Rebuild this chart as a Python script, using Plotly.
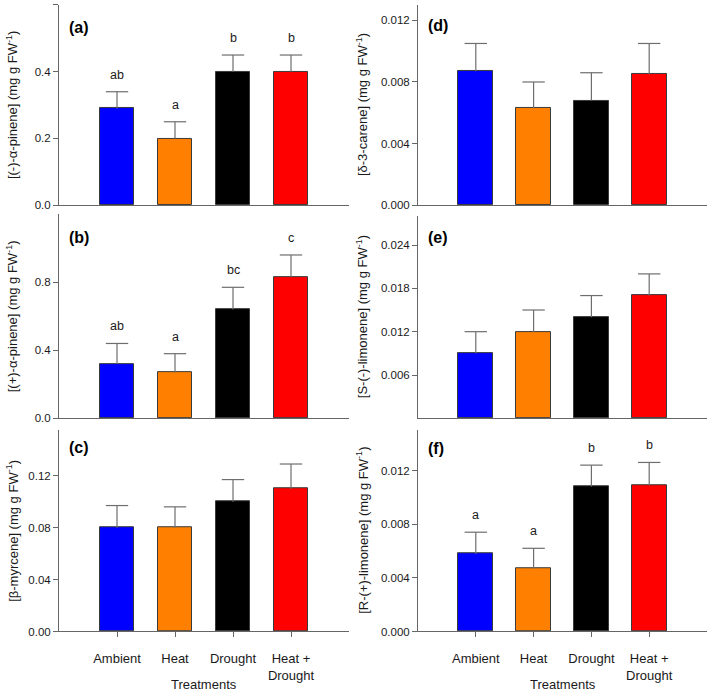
import plotly.graph_objects as go

# ---------------- data ----------------
categories = ["Ambient", "Heat", "Drought", "Heat +<br>Drought"]
bar_colors = ["#0000FF", "#FF8000", "#000000", "#FF0000"]

a_vals = [0.29, 0.20, 0.40, 0.40]
a_err = [0.05, 0.05, 0.05, 0.05]
a_letters = ["ab", "a", "b", "b"]

b_vals = [0.32, 0.27, 0.64, 0.83]
b_err = [0.12, 0.11, 0.13, 0.13]
b_letters = ["ab", "a", "bc", "c"]

c_vals = [0.080, 0.080, 0.100, 0.110]
c_err = [0.017, 0.016, 0.017, 0.019]

d_vals = [0.0087, 0.0063, 0.0068, 0.0085]
d_err = [0.0018, 0.0017, 0.0018, 0.0020]

e_vals = [0.009, 0.012, 0.014, 0.017]
e_err = [0.003, 0.003, 0.003, 0.003]

f_vals = [0.0058, 0.0047, 0.0108, 0.0109]
f_err = [0.0016, 0.0015, 0.0016, 0.0017]
f_letters = ["a", "a", "b", "b"]

a_ticks = [0.0, 0.2, 0.4, 0.6]
b_ticks = [0.0, 0.4, 0.8]
c_ticks = [0.0, 0.04, 0.08, 0.12]
d_ticks = [0.0, 0.004, 0.008, 0.012]
e_ticks = [0.006, 0.012, 0.018, 0.024]
f_ticks = [0.0, 0.004, 0.008, 0.012]

# ---------------- layout geometry ----------------
W, H = 708, 694
FONT = "Arial, Liberation Sans, sans-serif"
AXC = "#666666"
ERRC = "#6e6e6e"
TXT = "#1a1a1a"

def px_x(p):
    return p / W

def px_y(p):
    return 1 - p / H

col_dom = {0: [px_x(59), px_x(349)], 1: [px_x(418), px_x(707)]}

panels = [
    # label, vals, err, letters, yrange, ticks, fmt, col, top, bottom, title, labelpos
    ("(a)", a_vals, a_err, a_letters, [0, 0.6], a_ticks, "%.1f", 0, 5, 207,
     "[(-)-α-pinene] (mg g FW<sup>-1</sup>)", (67, 27.5)),
    ("(b)", b_vals, b_err, b_letters, [0, 1.2], b_ticks, "%.1f", 0, 216, 422,
     "[(+)-α-pinene] (mg g FW<sup>-1</sup>)", (67, 240)),
    ("(c)", c_vals, c_err, None, [0, 0.155], c_ticks, "%.2f", 0, 434, 637,
     "[β-myrcene] (mg g FW<sup>-1</sup>)", (67, 451)),
    ("(d)", d_vals, d_err, None, [0, 0.013], d_ticks, "%.3f", 1, 5, 207,
     "[δ-3-carene] (mg g FW<sup>-1</sup>)", (426, 26)),
    ("(e)", e_vals, e_err, None, [0, 0.028], e_ticks, "%.3f", 1, 218, 422,
     "[S-(-)-limonene] (mg g FW<sup>-1</sup>)", (426, 240)),
    ("(f)", f_vals, f_err, f_letters, [0, 0.015], f_ticks, "%.3f", 1, 434, 637,
     "[R-(+)-limonene] (mg g FW<sup>-1</sup>)", (426, 452)),
]

fig = go.Figure()
annotations = []
xpos = list(range(len(categories)))

for i, (lab, vals, err, letters, yr, ticks, fmt, col, top, bot, title, lp) in enumerate(panels):
    n = "" if i == 0 else str(i + 1)
    xa, ya = "x" + n, "y" + n
    fig.add_trace(go.Bar(
        x=xpos, y=vals, width=0.6,
        marker=dict(color=bar_colors, line=dict(color="#3a3a3a", width=1)),
        error_y=dict(type="data", array=err, arrayminus=[0] * len(err), symmetric=False,
                     color=ERRC, thickness=1.2, width=0),
        xaxis=xa, yaxis=ya, showlegend=False, hoverinfo="skip",
    ))
    # caps on the upper end of the error bars only
    fig.add_trace(go.Scatter(
        x=xpos, y=[v + e for v, e in zip(vals, err)], mode="markers",
        marker=dict(symbol="line-ew", size=16, line=dict(color=ERRC, width=1.2)),
        xaxis=xa, yaxis=ya, showlegend=False, hoverinfo="skip", cliponaxis=False,
    ))
    bottom_row = bot == 637
    fig.layout["xaxis" + n] = dict(
        domain=col_dom[col], anchor=ya, range=[-1, 4],
        showline=True, linecolor=AXC, linewidth=1, showgrid=False, zeroline=False,
        tickmode="array", tickvals=xpos if bottom_row else [],
        ticktext=categories if bottom_row else [],
        ticks="outside" if bottom_row else "", ticklen=5, tickcolor=AXC,
        tickfont=dict(family=FONT, size=13, color=TXT),
        ticklabelstandoff=10,
        fixedrange=True,
    )
    fig.layout["yaxis" + n] = dict(
        domain=[px_y(bot), px_y(top)], anchor=xa, range=yr,
        showline=True, linecolor=AXC, linewidth=1, showgrid=False, zeroline=False,
        tickmode="array", tickvals=ticks, ticktext=[fmt % t for t in ticks],
        ticks="outside", ticklen=5, tickcolor=AXC,
        tickfont=dict(family=FONT, size=11.5, color=TXT),
        fixedrange=True,
    )
    # panel label
    annotations.append(dict(
        text="<b>%s</b>" % lab, xref="paper", yref="paper",
        x=px_x(lp[0]), y=px_y(lp[1]), xanchor="left", yanchor="middle",
        showarrow=False, font=dict(family=FONT, size=16, color="#000000"),
    ))
    # y-axis title
    tx = 12 if col == 0 else 362
    annotations.append(dict(
        text=title, xref="paper", yref="paper",
        x=px_x(tx), y=px_y((top + bot) / 2), xanchor="center", yanchor="middle",
        textangle=-90, showarrow=False, font=dict(family=FONT, size=13, color=TXT),
    ))
    # significance letters
    if letters:
        for xi, v, e, L in zip(xpos, vals, err, letters):
            annotations.append(dict(
                text=L, xref=xa, yref=ya, x=xi, y=v + e,
                xanchor="center", yanchor="bottom", yshift=8,
                showarrow=False, font=dict(family=FONT, size=12.5, color=TXT),
            ))

# x-axis titles
for col in (0, 1):
    d = col_dom[col]
    annotations.append(dict(
        text="Treatments", xref="paper", yref="paper",
        x=(d[0] + d[1]) / 2, y=px_y(682), xanchor="center", yanchor="top",
        borderpad=0,
        showarrow=False, font=dict(family=FONT, size=13, color=TXT),
    ))

fig.update_layout(
    width=W, height=H,
    margin=dict(l=0, r=0, t=0, b=0),
    paper_bgcolor="white", plot_bgcolor="white",
    annotations=annotations,
    font=dict(family=FONT, color=TXT),
    bargap=0,
)

fig.write_html("out.html", config={"displayModeBar": False},
               post_script="document.body.style.margin='0';document.body.style.padding='0';")
